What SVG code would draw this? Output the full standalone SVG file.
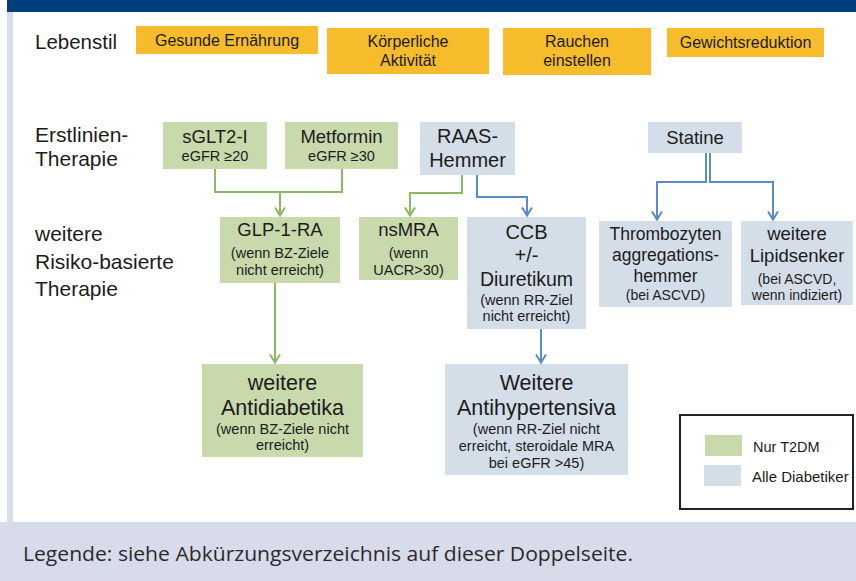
<svg xmlns="http://www.w3.org/2000/svg" width="856" height="581" viewBox="0 0 856 581">
<style>
.t{font-family:"Liberation Sans",Arial,sans-serif;fill:#1c1c1c;text-anchor:middle}
.lbl{font-family:"Liberation Sans",Arial,sans-serif;fill:#1c1c1c;font-size:21px}
.y{fill:#f6bc2b}
.g{fill:#c8d9ab}
.b{fill:#d4dee9}
.cg{fill:none;stroke:#8cb863;stroke-width:2}
.cb{fill:none;stroke:#5b8bc8;stroke-width:2}
.s{font-size:14.5px}
</style>
<defs>
<marker id="ag" viewBox="-1 -6 11 12" refX="8.5" refY="0" markerWidth="11" markerHeight="12" markerUnits="userSpaceOnUse" orient="auto">
<path d="M0,-5 L8,0 L0,5" fill="none" stroke="#8cb863" stroke-width="2"/>
</marker>
<marker id="ab" viewBox="-1 -6 11 12" refX="8.5" refY="0" markerWidth="11" markerHeight="12" markerUnits="userSpaceOnUse" orient="auto">
<path d="M0,-5 L8,0 L0,5" fill="none" stroke="#5b8bc8" stroke-width="2"/>
</marker>
</defs>
<rect x="0" y="0" width="856" height="581" fill="#ffffff"/>
<rect x="7" y="0" width="849" height="12" fill="#003e7e"/>
<rect x="7" y="12" width="6" height="511" fill="#d8dbea"/>
<rect x="0" y="522" width="856" height="59" fill="#d8dbea"/>
<text x="23" y="561" font-family="'Open Sans',sans-serif" font-size="20.5px" fill="#2a2a2a" textLength="610" lengthAdjust="spacingAndGlyphs">Legende: siehe Abkürzungsverzeichnis auf dieser Doppelseite.</text>

<g id="row-labels">
<text class="lbl" x="35" y="49" style="font-size:20.5px">Lebenstil</text>
<text class="lbl" x="35" y="142">Erstlinien-</text>
<text class="lbl" x="35" y="166">Therapie</text>
<text class="lbl" x="35" y="241">weitere</text>
<text class="lbl" x="35" y="269">Risiko-basierte</text>
<text class="lbl" x="35" y="296">Therapie</text>
</g>

<g id="gesunde-ernaehrung">
<rect class="y" x="136" y="26" width="182" height="28"/>
<text class="t" x="227" y="46" font-size="16">Gesunde Ernährung</text>
</g>
<g id="koerperliche-aktivitaet">
<rect class="y" x="327" y="28" width="162" height="46"/>
<text class="t" x="408" y="47" font-size="16">Körperliche</text>
<text class="t" x="408" y="66" font-size="16">Aktivität</text>
</g>
<g id="rauchen-einstellen">
<rect class="y" x="503" y="28" width="148" height="47"/>
<text class="t" x="577" y="47" font-size="16">Rauchen</text>
<text class="t" x="577" y="66" font-size="16">einstellen</text>
</g>
<g id="gewichtsreduktion">
<rect class="y" x="667" y="28" width="157" height="29"/>
<text class="t" x="745.5" y="48" font-size="16">Gewichtsreduktion</text>
</g>

<g id="sglt2">
<rect class="g" x="163" y="122" width="104" height="47"/>
<text class="t" x="215" y="143" font-size="18.5">sGLT2-I</text>
<text class="t s" x="215" y="161">eGFR ≥20</text>
</g>
<g id="metformin">
<rect class="g" x="285" y="122" width="113" height="47"/>
<text class="t" x="341.5" y="143" font-size="18.5">Metformin</text>
<text class="t s" x="341.5" y="161">eGFR ≥30</text>
</g>
<g id="raas">
<rect class="b" x="420" y="122" width="95" height="53"/>
<text class="t" x="467.5" y="143" font-size="20">RAAS-</text>
<text class="t" x="467.5" y="167" font-size="20">Hemmer</text>
</g>
<g id="statine">
<rect class="b" x="648" y="122" width="94" height="31"/>
<text class="t" x="695" y="144" font-size="18.5">Statine</text>
</g>

<g id="glp1">
<rect class="g" x="220" y="217" width="120" height="66"/>
<text class="t" x="280" y="236" font-size="18.5">GLP-1-RA</text>
<text class="t s" x="280" y="258">(wenn BZ-Ziele</text>
<text class="t s" x="280" y="275">nicht erreicht)</text>
</g>
<g id="nsmra">
<rect class="g" x="359" y="217" width="99" height="63"/>
<text class="t" x="408.5" y="236" font-size="18.5">nsMRA</text>
<text class="t s" x="408.5" y="258">(wenn</text>
<text class="t s" x="408.5" y="275">UACR&gt;30)</text>
</g>
<g id="ccb">
<rect class="b" x="467" y="217" width="119" height="112"/>
<text class="t" x="526.5" y="239" font-size="20">CCB</text>
<text class="t" x="526.5" y="262" font-size="20">+/-</text>
<text class="t" x="526.5" y="286" font-size="19.5">Diuretikum</text>
<text class="t s" x="526.5" y="305">(wenn RR-Ziel</text>
<text class="t s" x="526.5" y="321">nicht erreicht)</text>
</g>
<g id="thrombozyten">
<rect class="b" x="599" y="221" width="133" height="86"/>
<text class="t" x="665.5" y="240" font-size="17.5">Thrombozyten</text>
<text class="t" x="665.5" y="261" font-size="17.5">aggregations-</text>
<text class="t" x="665.5" y="282" font-size="17.5">hemmer</text>
<text class="t" x="665.5" y="300" font-size="14">(bei ASCVD)</text>
</g>
<g id="lipidsenker">
<rect class="b" x="741" y="221" width="112" height="84"/>
<text class="t" x="797" y="240" font-size="18.5">weitere</text>
<text class="t" x="797" y="262" font-size="18.5">Lipidsenker</text>
<text class="t" x="797" y="284" font-size="14">(bei ASCVD,</text>
<text class="t" x="797" y="300" font-size="14">wenn indiziert)</text>
</g>

<g id="antidiabetika">
<rect class="g" x="202" y="364" width="161" height="93"/>
<text class="t" x="282.5" y="390" font-size="21.5">weitere</text>
<text class="t" x="282.5" y="415" font-size="21.5">Antidiabetika</text>
<text class="t s" x="282.5" y="434">(wenn BZ-Ziele nicht</text>
<text class="t s" x="282.5" y="450">erreicht)</text>
</g>
<g id="antihypertensiva">
<rect class="b" x="445" y="364" width="183" height="111"/>
<text class="t" x="536.5" y="390" font-size="21.5">Weitere</text>
<text class="t" x="536.5" y="415" font-size="21.5">Antihypertensiva</text>
<text class="t s" x="536.5" y="434">(wenn RR-Ziel nicht</text>
<text class="t s" x="536.5" y="451">erreicht, steroidale MRA</text>
<text class="t s" x="536.5" y="468">bei eGFR &gt;45)</text>
</g>

<g id="legend">
<rect x="680" y="415" width="173" height="94" fill="#ffffff" stroke="#222" stroke-width="2"/>
<rect class="g" x="705" y="435" width="37" height="21"/>
<rect class="b" x="704" y="465" width="37" height="21"/>
<text x="753" y="452" font-family="'Liberation Sans',Arial,sans-serif" font-size="14.5" fill="#1c1c1c">Nur T2DM</text>
<text x="752" y="482" font-family="'Liberation Sans',Arial,sans-serif" font-size="15" fill="#1c1c1c">Alle Diabetiker</text>
</g>

<g id="connectors">
<path class="cg" d="M215,169 V192 H342 V169"/>
<path class="cg" d="M280,192 V216" marker-end="url(#ag)"/>
<path class="cg" d="M275,283 V363" marker-end="url(#ag)"/>
<path class="cg" d="M462,175 V193 H410 V216" marker-end="url(#ag)"/>
<path class="cb" d="M477,175 V197 H527 V216" marker-end="url(#ab)"/>
<path class="cb" d="M541,329 V363" marker-end="url(#ab)"/>
<path class="cb" d="M706,153 V182 H657 V220" marker-end="url(#ab)"/>
<path class="cb" d="M710,153 V182 H773 V220" marker-end="url(#ab)"/>
</g>
</svg>
